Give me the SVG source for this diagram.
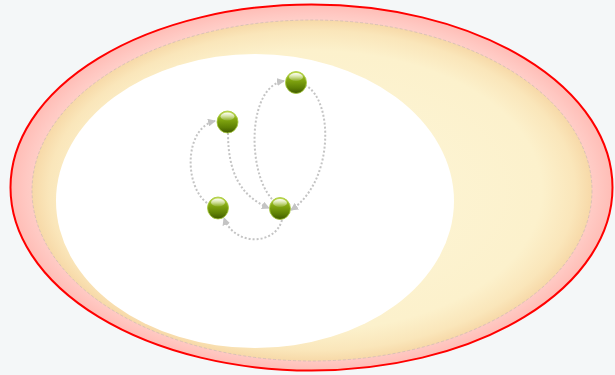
<svg xmlns="http://www.w3.org/2000/svg" width="615" height="375" viewBox="0 0 615 375">
  <defs>
    <radialGradient id="pinkGrad" cx="0.5" cy="0.5" r="0.5">
      <stop offset="0.88" stop-color="#ffd6d0"/>
      <stop offset="0.95" stop-color="#ffc8c2"/>
      <stop offset="1" stop-color="#ffbdb6"/>
    </radialGradient>
    <radialGradient id="creamGrad" cx="0.5" cy="0.5" r="0.5">
      <stop offset="0" stop-color="#fdf6d8"/>
      <stop offset="0.82" stop-color="#fcf1cc"/>
      <stop offset="0.94" stop-color="#fae6ba"/>
      <stop offset="1" stop-color="#f7d9a8"/>
    </radialGradient>
    <linearGradient id="ballGrad" x1="0" y1="0" x2="0" y2="1">
      <stop offset="0" stop-color="#c8e05a"/>
      <stop offset="0.35" stop-color="#86ab12"/>
      <stop offset="0.75" stop-color="#5e8004"/>
      <stop offset="1" stop-color="#3f5800"/>
    </linearGradient>
    <linearGradient id="shineGrad" x1="0" y1="0" x2="0" y2="1">
      <stop offset="0" stop-color="#ffffff" stop-opacity="0.95"/>
      <stop offset="1" stop-color="#ffffff" stop-opacity="0.1"/>
    </linearGradient>
    <marker id="arrow" viewBox="0 0 8 8" refX="7" refY="4" markerWidth="8" markerHeight="8" markerUnits="userSpaceOnUse" orient="auto">
      <path d="M0,0 L8,4 L0,8 z" fill="#c4c4c4"/>
    </marker>
    <style>
      .conn { fill: none; stroke: #c4c4c4; stroke-width: 2; stroke-dasharray: 2 2; marker-end: url(#arrow); }
      .ball { fill: url(#ballGrad); stroke: #a6c93a; stroke-width: 0.8; }
      .shine { fill: url(#shineGrad); }
    </style>
  </defs>

  <rect x="0" y="0" width="615" height="375" fill="#f4f7f8"/>

  <g id="outer-zone">
    <ellipse cx="311.5" cy="187.5" rx="301" ry="183" fill="url(#pinkGrad)" stroke="#ff0000" stroke-width="2"/>
  </g>
  <g id="middle-zone">
    <ellipse cx="312" cy="190.5" rx="280" ry="170.5" fill="url(#creamGrad)" stroke="#d0bcb4" stroke-width="0.8" stroke-dasharray="3 2"/>
  </g>
  <g id="inner-zone">
    <ellipse cx="255" cy="201" rx="199" ry="147" fill="#ffffff"/>
  </g>

  <g id="connectors">
    <path class="conn" d="M207,203 C184,186 184,128 215,121"/>
    <path class="conn" d="M228,133 C228,172 240,196 269,208"/>
    <path class="conn" d="M272,199 C247,172 247,86 284,81"/>
    <path class="conn" d="M305,85 C334,100 334,182 291,210"/>
    <path class="conn" d="M282,220 C275,246 234,246 224,218"/>
  </g>

  <g id="node-a">
    <ellipse class="ball" cx="227.5" cy="122" rx="10.5" ry="11"/>
    <ellipse class="shine" cx="227.5" cy="116.5" rx="7" ry="4"/>
  </g>
  <g id="node-b">
    <ellipse class="ball" cx="296" cy="82.5" rx="10.5" ry="11"/>
    <ellipse class="shine" cx="296" cy="77" rx="7" ry="4"/>
  </g>
  <g id="node-c">
    <ellipse class="ball" cx="218" cy="208" rx="10.5" ry="11"/>
    <ellipse class="shine" cx="218" cy="202.5" rx="7" ry="4"/>
  </g>
  <g id="node-d">
    <ellipse class="ball" cx="280" cy="208.5" rx="10.5" ry="11"/>
    <ellipse class="shine" cx="280" cy="203" rx="7" ry="4"/>
  </g>
</svg>
